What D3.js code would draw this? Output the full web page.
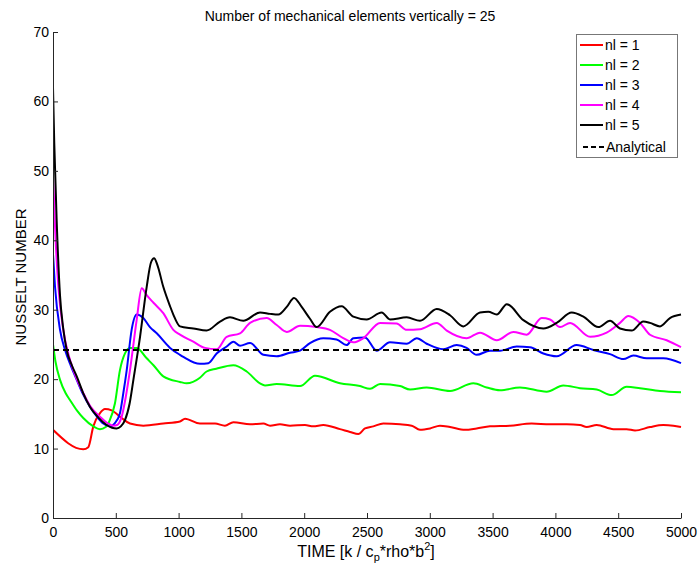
<!DOCTYPE html>
<html><head><meta charset="utf-8">
<script src="https://cdn.jsdelivr.net/npm/d3@7"></script>
<style>body{margin:0;background:#fff}text{font-family:"Liberation Sans",Arial,sans-serif}</style>
</head><body><svg id="c" width="699" height="569"></svg>
<script>
const title = "Number of mechanical elements vertically = 25";
const xTicks = [0,500,1000,1500,2000,2500,3000,3500,4000,4500,5000];
const yTicks = [0,10,20,30,40,50,60,70];
const seriesNames = ["nl = 1","nl = 2","nl = 3","nl = 4","nl = 5"];
const seriesColors = ["#ff0000","#00ff00","#0000ff","#ff00ff","#000000"];
const analyticalValue = 24.2;

const nl1 = [[0,12.7],[241,9.9],[281,10.2],[321,13.2],[374,15.1],[414,15.7],[467,15.5],[547,14.4],[613,13.6],[719,13.3],[878,13.6],[1011,13.9],[1051,14.3],[1170,13.6],[1290,13.6],[1369,13.3],[1436,13.8],[1569,13.5],[1675,13.6],[1728,13.3],[1807,13.5],[1887,13.3],[2006,13.4],[2072,13.2],[2152,13.4],[2285,12.8],[2365,12.4],[2431,12.1],[2484,12.9],[2550,13.2],[2630,13.6],[2763,13.5],[2856,13.3],[2922,12.7],[3002,12.9],[3081,13.3],[3161,13.1],[3280,12.7],[3373,12.9],[3479,13.2],[3638,13.3],[3811,13.6],[3957,13.5],[4090,13.5],[4196,13.4],[4249,13.1],[4329,13.4],[4462,12.8],[4567,12.8],[4634,12.6],[4753,13.1],[4859,13.4],[4939,13.3],[5000,13.1]];
const nl2 = [[0,25.0],[20,22.5],[56,19.9],[100,18.0],[135,17.0],[190,15.5],[241,14.4],[321,13.2],[374,12.8],[420,13.1],[450,14.0],[493,16.5],[533,21.3],[573,23.7],[613,24.5],[666,24.5],[746,23.0],[800,22.0],[878,20.4],[1011,19.6],[1064,19.4],[1170,20.2],[1223,21.1],[1300,21.5],[1436,22.0],[1542,21.1],[1648,19.4],[1688,19.1],[1781,19.3],[1967,19.0],[2086,20.5],[2285,19.4],[2444,19.0],[2524,18.6],[2604,19.3],[2763,19.0],[2843,18.5],[2975,18.8],[3161,18.3],[3347,19.4],[3453,18.8],[3559,18.4],[3718,18.8],[3930,18.2],[4063,19.1],[4196,18.7],[4329,18.5],[4448,17.7],[4567,18.9],[4674,18.7],[4833,18.3],[5000,18.1]];
const nl3 = [[0,38.0],[16,33.3],[56,27.1],[96,24.2],[140,22.0],[189,19.9],[240,17.8],[295,16.0],[350,14.6],[400,13.6],[454,13.2],[490,13.6],[533,15.1],[560,18.0],[587,21.3],[626,27.1],[666,29.3],[719,28.8],[772,27.5],[826,26.6],[932,24.5],[1011,23.5],[1038,23.2],[1170,22.2],[1237,22.3],[1303,23.7],[1383,24.7],[1436,25.4],[1489,24.8],[1569,25.2],[1675,23.5],[1781,23.3],[1887,23.8],[1967,24.1],[2046,25.2],[2152,25.9],[2258,25.7],[2338,24.9],[2391,25.9],[2484,26.0],[2577,24.1],[2683,25.3],[2816,25.1],[2896,25.9],[2975,25.1],[3107,24.3],[3214,24.9],[3293,24.5],[3373,23.5],[3479,24.1],[3559,24.1],[3692,24.7],[3798,24.6],[3904,23.7],[4010,23.3],[4169,24.9],[4302,24.2],[4435,23.6],[4541,22.9],[4620,23.4],[4727,23.0],[4859,23.0],[5000,22.3]];
const nl4 = [[0,49.0],[8,46.0],[16,42.0],[43,33.3],[82,27.1],[135,22.8],[190,20.0],[241,18.0],[300,16.0],[374,14.6],[440,13.6],[480,13.3],[510,13.4],[547,14.6],[580,17.5],[613,21.3],[666,28.5],[706,33.1],[746,32.1],[800,31.0],[878,29.5],[958,27.1],[1011,26.4],[1117,25.4],[1210,24.5],[1303,24.3],[1383,26.1],[1489,26.6],[1569,28.1],[1701,28.8],[1781,27.8],[1861,26.8],[1967,27.7],[2099,27.5],[2205,27.1],[2311,25.9],[2391,25.3],[2471,25.9],[2604,28.1],[2736,28.0],[2816,27.1],[2922,27.2],[3055,28.1],[3135,27.0],[3293,25.9],[3400,26.7],[3533,25.6],[3665,26.8],[3771,26.4],[3891,28.8],[3957,28.6],[4037,27.5],[4117,28.1],[4276,26.1],[4408,26.7],[4514,28.1],[4581,29.1],[4674,28.1],[4753,26.4],[4886,25.6],[5000,24.6]];
const nl5 = [[0,62.0],[10,54.0],[29,43.0],[56,32.0],[80,27.5],[109,24.2],[150,22.0],[189,20.4],[240,18.0],[295,16.0],[360,14.5],[427,13.4],[470,13.0],[507,12.9],[540,13.2],[573,14.1],[610,16.5],[640,19.9],[693,26.1],[746,33.3],[780,36.8],[805,37.4],[830,36.5],[878,33.3],[932,30.5],[958,29.3],[1011,27.6],[1117,27.3],[1223,27.0],[1330,28.3],[1409,28.9],[1515,28.4],[1648,29.6],[1728,29.4],[1794,29.3],[1861,30.4],[1919,31.7],[1980,30.4],[2046,28.7],[2099,27.5],[2205,29.7],[2298,30.5],[2391,29.0],[2497,28.6],[2617,29.6],[2683,28.6],[2816,28.9],[2922,28.4],[3055,30.1],[3161,29.2],[3267,27.6],[3400,29.6],[3466,29.7],[3533,29.3],[3613,30.8],[3745,28.5],[3904,27.3],[4010,28.1],[4130,29.6],[4223,29.0],[4342,27.5],[4435,28.4],[4514,27.3],[4607,27.0],[4700,28.3],[4753,28.1],[4833,27.6],[4912,28.8],[5000,29.3]];
const seriesData = [nl1,nl2,nl3,nl4,nl5];

const svg = d3.select("#c");
const L=53,R=681,T=32,B=518;
const x = d3.scaleLinear().domain([0,5000]).range([L,R]);
const y = d3.scaleLinear().domain([0,70]).range([B,T]);
const axisColor="#262626";

const line = d3.line().x(d=>x(d[0])).y(d=>y(d[1])).curve(d3.curveMonotoneX);
svg.append("clipPath").attr("id","clp").append("rect").attr("x",L).attr("y",T-2).attr("width",R-L+2).attr("height",B-T+2);
const g = svg.append("g").attr("clip-path","url(#clp)");
seriesData.forEach((s,i)=>{
  g.append("path").attr("d",line(s)).attr("fill","none").attr("stroke",seriesColors[i]).attr("stroke-width",2).attr("stroke-linejoin","round");
});
g.append("line").attr("x1",x(0)).attr("x2",x(5000)).attr("y1",y(analyticalValue)).attr("y2",y(analyticalValue))
  .attr("stroke","#000").attr("stroke-width",2).attr("stroke-dasharray","6,4");

const xAxis = svg.append("g").attr("transform",`translate(0,${B})`)
  .call(d3.axisBottom(x).tickValues(xTicks).tickSizeInner(-5).tickSizeOuter(0).tickPadding(9).tickFormat(d3.format("d")));
const yAxis = svg.append("g").attr("transform",`translate(${L},0)`)
  .call(d3.axisLeft(y).tickValues(yTicks).tickSizeInner(-5).tickSizeOuter(0).tickPadding(4).tickFormat(d3.format("d")));
[xAxis,yAxis].forEach(a=>{
  a.select(".domain").attr("stroke",axisColor).attr("stroke-width",1);
  a.selectAll(".tick line").attr("stroke",axisColor);
  a.selectAll(".tick text").attr("fill","#000").style("font-size","14px").style("font-family","'Liberation Sans',Arial,sans-serif");
});

svg.append("text").attr("x",350).attr("y",21).attr("text-anchor","middle").style("font-size","14px").text(title);
svg.append("text").attr("transform","translate(26,277) rotate(-90)").attr("text-anchor","middle").style("font-size","15px").text("NUSSELT NUMBER");
const xl = svg.append("text").attr("x",366).attr("y",557).attr("text-anchor","middle").style("font-size","16px");
xl.append("tspan").text("TIME [k / c");
xl.append("tspan").attr("dy",4).style("font-size","11px").text("p");
xl.append("tspan").attr("dy",-4).text("*rho*b");
xl.append("tspan").attr("dy",-7).style("font-size","11px").text("2");
xl.append("tspan").attr("dy",7).text("]");

const lg = svg.append("g");
lg.append("rect").attr("x",576.5).attr("y",34.5).attr("width",101).attr("height",123).attr("fill","#fff").attr("stroke","#777");
const names = seriesNames.concat(["Analytical"]);
const ys = [45,65,85,105,125,147];
names.forEach((n,i)=>{
  const yy = ys[i];
  const ln = lg.append("line").attr("y1",yy).attr("y2",yy).attr("stroke-width",2);
  if(i<5){ ln.attr("x1",580).attr("x2",603).attr("stroke",seriesColors[i]); }
  else { ln.attr("x1",583).attr("x2",605).attr("stroke","#000").attr("stroke-dasharray","5,3"); }
  lg.append("text").attr("x",i<5?605:606).attr("y",yy+5).style("font-size","14px").text(n);
});
</script></body></html>
